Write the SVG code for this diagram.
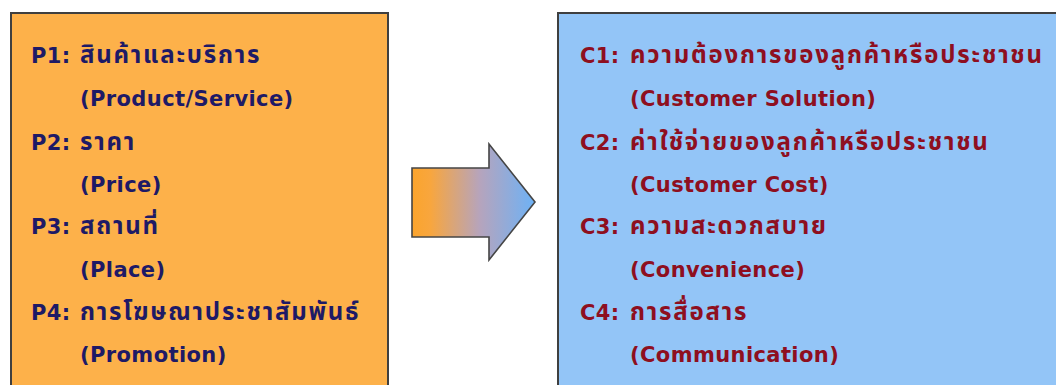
<svg xmlns="http://www.w3.org/2000/svg" width="1056" height="385" viewBox="0 0 1056 385">
<defs>
<linearGradient id="arrowGrad" x1="0" y1="0" x2="1" y2="0">
<stop offset="0" stop-color="#FBA42C"/>
<stop offset="0.15" stop-color="#F8A63E"/>
<stop offset="0.55" stop-color="#B6A4BC"/>
<stop offset="1" stop-color="#6DB2F6"/>
</linearGradient>
<style>
.box { stroke: #3f3f3f; stroke-width: 2; }
.t { font-family: Tahoma, "DejaVu Sans", "Noto Sans Thai", "Noto Sans", sans-serif; font-size: 21px; font-weight: bold; letter-spacing: 0.4px; }
.th { font-size: 24px; letter-spacing: 1.8px; }
.p { fill: #1E1A66; }
.c { fill: #8E0F20; }
</style>
</defs>
<rect width="1056" height="385" fill="#ffffff"/>
<g id="node-4p">
<rect class="box" x="11" y="13" width="377" height="390" fill="#FDB14A"/>
<text class="t p" x="31" y="63">P1:<tspan class="th" x="80">สินค้าและบริการ</tspan></text>
<text class="t p" x="80" y="106">(Product/Service)</text>
<text class="t p" x="31" y="150">P2:<tspan class="th" x="80">ราคา</tspan></text>
<text class="t p" x="80" y="192">(Price)</text>
<text class="t p" x="31" y="234">P3:<tspan class="th" x="80">สถานที่</tspan></text>
<text class="t p" x="80" y="277">(Place)</text>
<text class="t p" x="31" y="320">P4:<tspan class="th" x="80">การโฆษณาประชาสัมพันธ์</tspan></text>
<text class="t p" x="80" y="362">(Promotion)</text>
</g>
<g id="connectors">
<path d="M412,168 L489,168 L489,144 L535,202 L489,260 L489,237 L412,237 Z" fill="url(#arrowGrad)" stroke="#454545" stroke-width="1.6" stroke-linejoin="miter"/>
</g>
<g id="node-4c">
<rect class="box" x="558" y="13" width="520" height="390" fill="#93C5F7"/>
<text class="t c" x="580" y="63">C1:<tspan class="th" x="630">ความต้องการของลูกค้าหรือประชาชน</tspan></text>
<text class="t c" x="630" y="106">(Customer Solution)</text>
<text class="t c" x="580" y="150">C2:<tspan class="th" x="630">ค่าใช้จ่ายของลูกค้าหรือประชาชน</tspan></text>
<text class="t c" x="630" y="192">(Customer Cost)</text>
<text class="t c" x="580" y="234">C3:<tspan class="th" x="630">ความสะดวกสบาย</tspan></text>
<text class="t c" x="630" y="277">(Convenience)</text>
<text class="t c" x="580" y="320">C4:<tspan class="th" x="630">การสื่อสาร</tspan></text>
<text class="t c" x="630" y="362">(Communication)</text>
</g>
</svg>
